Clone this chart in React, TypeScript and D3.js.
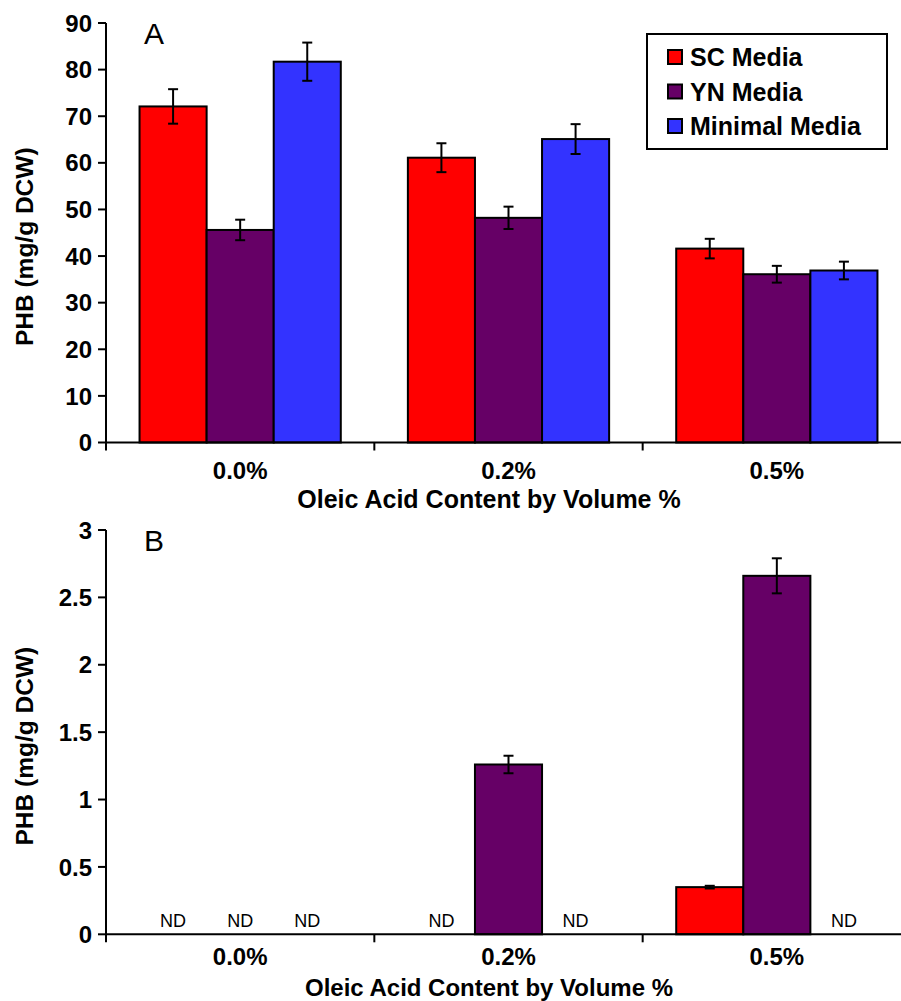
import * as d3 from "d3";

const categories = ["0.0%", "0.2%", "0.5%"];
const seriesNames = ["SC Media", "YN Media", "Minimal Media"];
const colors = ["#ff0000", "#660066", "#3333ff"];

// panel A (mg/g DCW)
const aSC = [72.1, 61.1, 41.6];
const aYN = [45.6, 48.2, 36.1];
const aMin = [81.7, 65.1, 36.9];
const aSCerr = [3.7, 3.1, 2.1];
const aYNerr = [2.2, 2.4, 1.8];
const aMinErr = [4.1, 3.2, 1.9];
const aTicks = [0, 10, 20, 30, 40, 50, 60, 70, 80, 90];

// panel B (mg/g DCW); null = not detected
const bSC = [null, null, 0.35];
const bYN = [null, 1.26, 2.66];
const bMin = [null, null, null];
const bSCerr = [0, 0, 0.01];
const bYNerr = [0, 0.065, 0.13];
const bMinErr = [0, 0, 0];
const bTicks = [0, 0.5, 1, 1.5, 2, 2.5, 3];

const FONT = "'Liberation Sans', Arial, Helvetica, sans-serif";

type Val = number | null;

function Panel({
  top,
  bottom,
  maxY,
  ticks,
  values,
  errors,
  letter,
  showND,
  tickY,
  titleY,
  titleSize,
}: {
  top: number;
  bottom: number;
  maxY: number;
  ticks: number[];
  values: Val[][];
  errors: number[][];
  letter: string;
  showND: boolean;
  tickY: number;
  titleY: number;
  titleSize: number;
}) {
  const left = 106;
  const x0 = d3.scaleBand<string>().domain(categories).range([left, 911]).padding(0);
  const x1 = d3
    .scaleBand<string>()
    .domain(seriesNames)
    .range([0, x0.bandwidth()])
    .paddingInner(0)
    .paddingOuter(0.5);
  const y = d3.scaleLinear().domain([0, maxY]).range([bottom, top]);
  const bw = x1.bandwidth();
  const mid = (top + bottom) / 2;

  return (
    <g>
      {categories.map((c, ci) =>
        seriesNames.map((s, si) => {
          const v = values[si][ci];
          const cx = (x0(c) as number) + (x1(s) as number) + bw / 2;
          if (v === null) {
            return showND ? (
              <text
                key={c + s}
                x={cx}
                y={bottom - 7}
                textAnchor="middle"
                fontSize={18}
                fontFamily={FONT}
              >
                ND
              </text>
            ) : null;
          }
          const e = errors[si][ci];
          return (
            <g key={c + s}>
              <rect
                x={(x0(c) as number) + (x1(s) as number)}
                y={y(v)}
                width={bw}
                height={bottom - y(v)}
                fill={colors[si]}
                stroke="#000"
                strokeWidth={2}
              />
              {e > 0 && (
                <g stroke="#000" strokeWidth={2}>
                  <line x1={cx} x2={cx} y1={y(v + e)} y2={y(v - e)} />
                  <line x1={cx - 5} x2={cx + 5} y1={y(v + e)} y2={y(v + e)} />
                  <line x1={cx - 5} x2={cx + 5} y1={y(v - e)} y2={y(v - e)} />
                </g>
              )}
            </g>
          );
        })
      )}
      {/* axes */}
      <line x1={left} x2={left} y1={top} y2={bottom} stroke="#000" strokeWidth={2} />
      <line x1={left} x2={911} y1={bottom} y2={bottom} stroke="#000" strokeWidth={2} />
      {ticks.map((t) => (
        <g key={t}>
          <line x1={left - 8} x2={left} y1={y(t)} y2={y(t)} stroke="#000" strokeWidth={2} />
          <text
            x={92}
            y={y(t)}
            dy="0.36em"
            textAnchor="end"
            fontSize={24}
            fontWeight="bold"
            fontFamily={FONT}
          >
            {d3.format("~g")(t)}
          </text>
        </g>
      ))}
      {categories.map((c) => (
        <g key={c}>
          <line
            x1={x0(c) as number}
            x2={x0(c) as number}
            y1={bottom}
            y2={bottom + 8}
            stroke="#000"
            strokeWidth={2}
          />
          <text
            x={(x0(c) as number) + x0.bandwidth() / 2}
            y={tickY}
            textAnchor="middle"
            fontSize={24}
            fontWeight="bold"
            fontFamily={FONT}
          >
            {c}
          </text>
        </g>
      ))}
      <text
        x={489}
        y={titleY}
        textAnchor="middle"
        fontSize={titleSize}
        fontWeight="bold"
        fontFamily={FONT}
      >
        Oleic Acid Content by Volume %
      </text>
      <text
        transform={`translate(33,${mid + 14}) rotate(-90)`}
        textAnchor="middle"
        fontSize={24.5}
        fontWeight="bold"
        fontFamily={FONT}
      >
        PHB (mg/g DCW)
      </text>
      <text x={144} y={top + 21} fontSize={30} fontFamily={FONT}>
        {letter}
      </text>
    </g>
  );
}

export default function App() {
  return (
    <svg
      width={901}
      height={1001}
      style={{ position: "absolute", left: 0, top: 0, background: "#fff" }}
    >
      <rect width={901} height={1001} fill="#fff" />
      <Panel
        top={23}
        bottom={442.5}
        maxY={90}
        ticks={aTicks}
        values={[aSC, aYN, aMin]}
        errors={[aSCerr, aYNerr, aMinErr]}
        letter="A"
        showND={false}
        tickY={479}
        titleY={508}
        titleSize={25}
      />
      <Panel
        top={530}
        bottom={934.3}
        maxY={3}
        ticks={bTicks}
        values={[bSC, bYN, bMin]}
        errors={[bSCerr, bYNerr, bMinErr]}
        letter="B"
        showND={true}
        tickY={965}
        titleY={995.5}
        titleSize={24}
      />
      {/* legend */}
      <g fontFamily={FONT}>
        <rect x={647} y={34} width={240} height={115} fill="#fff" stroke="#000" strokeWidth={2} />
        {seriesNames.map((s, i) => (
          <g key={s} transform={`translate(668,${57 + i * 34.5})`}>
            <rect x={0} y={-7} width={14} height={14} fill={colors[i]} stroke="#000" strokeWidth={2} />
            <text x={22} y={0} dy="0.36em" fontSize={25} fontWeight="bold">
              {s}
            </text>
          </g>
        ))}
      </g>
    </svg>
  );
}
